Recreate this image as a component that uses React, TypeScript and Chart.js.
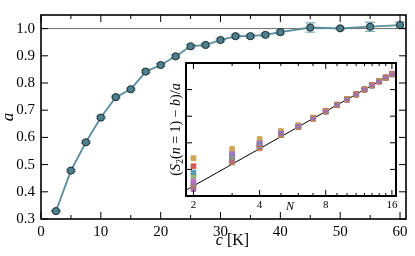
import React, { useEffect, useRef } from 'react';
import { Chart, registerables } from 'chart.js';
Chart.register(...registerables);

// ---------- main panel data ----------
const C_VALUES = [2.5, 5, 7.5, 10, 12.5, 15, 17.5, 20, 22.5, 25, 27.5, 30, 32.5, 35, 37.5, 40, 45, 50, 55, 60];
const A_VALUES = [0.329, 0.478, 0.582, 0.673, 0.748, 0.777, 0.842, 0.866, 0.898, 0.935, 0.94, 0.958, 0.972, 0.972, 0.977, 0.987, 1.004, 1.001, 1.007, 1.013];
const A_ERRORS = [0.003, 0.004, 0.004, 0.004, 0.004, 0.004, 0.005, 0.005, 0.005, 0.006, 0.005, 0.005, 0.006, 0.006, 0.006, 0.007, 0.017, 0.004, 0.017, 0.011];
const REF_LEVEL = 1.0;
const X_RANGE = [0, 61];
const Y_RANGE = [0.3, 1.05];
const X_MAJOR = [0, 10, 20, 30, 40, 50, 60];
const X_MINOR = [5, 15, 25, 35, 45, 55];
const Y_MAJOR = [0.3, 0.4, 0.5, 0.6, 0.7, 0.8, 0.9, 1.0];

// ---------- inset data ----------
const N_VALUES = [2, 3, 4, 5, 6, 7, 8, 9, 10, 11, 12, 13, 14, 15, 16];
const S_BROWN = [0.36, 1.26, 1.79, 2.29, 2.6, 2.91, 3.18, 3.42, 3.63, 3.82, 4.0, 4.16, 4.31, 4.45, 4.58];
const S_PINK = [0.55, 1.52, 1.97, 2.35, 2.63, 2.92, 3.19, 3.43, 3.62, 3.83, 4.01, 4.17, 4.31, 4.46, 4.59];
const S_ORANGE = [1.42, 1.76, 2.13, 2.44, 2.66, 2.95, 3.21, 3.44, 3.65, 3.83, 4.02, 4.17, 4.32, 4.46, 4.6];
const S_RED = [1.12, 1.36, 1.9, 2.31, 2.62, 2.92, 3.19, 3.42, 3.63, 3.82, 4.0, 4.16, 4.31, 4.45, 4.58];
const S_TEAL = [0.88, 1.46, 1.95, 2.34, 2.63, 2.93, 3.18, 3.43, 3.64, 3.82, 4.01, 4.15, 4.3, 4.45, 4.57];
const S_GREEN = [0.74, 1.41, 1.88, 2.3, 2.61, 2.91, 3.17, 3.41, 3.63, 3.81, 4.0, 4.16, 4.32, 4.44, 4.58];
const S_PURPLE = [0.45, 1.6, 2.01, 2.38, 2.62, 2.92, 3.19, 3.42, 3.63, 3.82, 4.0, 4.16, 4.31, 4.45, 4.58];
const S_VIOLET = [0.26, 1.3, 1.84, 2.32, 2.6, 2.91, 3.18, 3.42, 3.63, 3.82, 4.0, 4.16, 4.31, 4.45, 4.58];
const ERR_ORANGE = [0.06, 0.08, 0.09, 0.07, 0.05, 0.04, 0.04, 0.03, 0.03, 0.03, 0.03, 0.03, 0.03, 0.03, 0.03];
const ERR_OTHER = [0.04, 0.05, 0.05, 0.04, 0.04, 0.03, 0.03, 0.03, 0.03, 0.03, 0.03, 0.03, 0.03, 0.03, 0.03];
const FIT_N = [1.85, 16.7];
const FIT_Y = [0.22, 4.67];
const N_RANGE = [1.85, 16.7];
const INSET_Y_RANGE = [0, 5];
const N_MAJOR = [2, 4, 8, 16];
const N_MINOR = [3, 5, 6, 7, 9, 10, 11, 12, 13, 14, 15];
const INSET_Y_TICKS = [1, 2, 3, 4];

const SERIF = "'Liberation Serif', 'Times New Roman', serif";

type Seg = { t: string; it?: boolean; sub?: boolean };

function drawRich(ctx: CanvasRenderingContext2D, segs: Seg[], x: number, y: number, size: number, rotate: boolean) {
  ctx.save();
  ctx.translate(x, y);
  if (rotate) ctx.rotate(-Math.PI / 2);
  const font = (s: Seg) => `${s.it ? 'italic ' : ''}${s.sub ? Math.round(size * 0.7) : size}px ${SERIF}`;
  let total = 0;
  for (const s of segs) {
    ctx.font = font(s);
    total += ctx.measureText(s.t).width;
  }
  let cx = -total / 2;
  ctx.fillStyle = '#000';
  ctx.textAlign = 'left';
  ctx.textBaseline = 'alphabetic';
  for (const s of segs) {
    ctx.font = font(s);
    ctx.fillText(s.t, cx, s.sub ? size * 0.22 : 0);
    cx += ctx.measureText(s.t).width;
  }
  ctx.restore();
}

type TickSpec = {
  xMajor: number[]; xMinor: number[]; yMajor: number[]; yMinor: number[];
  major: number; minor: number; tickWidth: number; frameWidth: number;
};

function drawFrame(chart: any, spec: TickSpec) {
  const { ctx, chartArea } = chart;
  const { left, top, right, bottom } = chartArea;
  const xs = chart.scales.x;
  const ys = chart.scales.y;
  ctx.save();
  ctx.strokeStyle = '#000';
  ctx.lineWidth = spec.tickWidth;
  ctx.beginPath();
  const xt = (vals: number[], len: number) =>
    vals.forEach((v) => {
      const p = xs.getPixelForValue(v);
      ctx.moveTo(p, top); ctx.lineTo(p, top + len);
      ctx.moveTo(p, bottom); ctx.lineTo(p, bottom - len);
    });
  const yt = (vals: number[], len: number) =>
    vals.forEach((v) => {
      const p = ys.getPixelForValue(v);
      ctx.moveTo(left, p); ctx.lineTo(left + len, p);
      ctx.moveTo(right, p); ctx.lineTo(right - len, p);
    });
  xt(spec.xMajor, spec.major);
  xt(spec.xMinor, spec.minor);
  yt(spec.yMajor, spec.major);
  yt(spec.yMinor, spec.minor);
  ctx.stroke();
  ctx.lineWidth = spec.frameWidth;
  ctx.strokeRect(left, top, right - left, bottom - top);
  ctx.restore();
}

function drawErrors(chart: any) {
  const { ctx } = chart;
  const ys = chart.scales.y;
  ctx.save();
  chart.data.datasets.forEach((ds: any, i: number) => {
    if (!ds.errors) return;
    const meta = chart.getDatasetMeta(i);
    ctx.strokeStyle = ds.errColor;
    ctx.lineWidth = ds.errWidth || 1;
    ctx.beginPath();
    ds.data.forEach((pt: any, j: number) => {
      const el = meta.data[j];
      if (!el) return;
      const e = ds.errors[j];
      const x = el.x;
      const y1 = ys.getPixelForValue(pt.y + e);
      const y2 = ys.getPixelForValue(pt.y - e);
      ctx.moveTo(x, y1); ctx.lineTo(x, y2);
      ctx.moveTo(x - ds.cap, y1); ctx.lineTo(x + ds.cap, y1);
      ctx.moveTo(x - ds.cap, y2); ctx.lineTo(x + ds.cap, y2);
    });
    ctx.stroke();
  });
  ctx.restore();
}

export default function App() {
  const mainRef = useRef<HTMLCanvasElement>(null);
  const insetRef = useRef<HTMLCanvasElement>(null);

  useEffect(() => {
    const tickFont = { family: SERIF, size: 15 };

    const mainPlugin = {
      id: 'mainDeco',
      beforeDatasetsDraw(chart: any) { drawErrors(chart); },
      afterDraw(chart: any) {
        drawFrame(chart, {
          xMajor: X_MAJOR, xMinor: X_MINOR, yMajor: Y_MAJOR, yMinor: [],
          major: 7, minor: 4, tickWidth: 1, frameWidth: 1.6,
        });
        const { ctx, chartArea } = chart;
        const cy = (chartArea.top + chartArea.bottom) / 2;
        const cx = (chartArea.left + chartArea.right) / 2;
        drawRich(ctx, [{ t: 'a', it: true }], 13, cy, 17, true);
        drawRich(ctx, [{ t: 'c', it: true }, { t: ' [K]' }], cx + 9, 245, 16, false);
      },
    };

    const main = new Chart(mainRef.current!, {
      type: 'scatter',
      data: {
        datasets: [
          {
            data: C_VALUES.map((c, i) => ({ x: c, y: A_VALUES[i] })),
            errors: A_ERRORS, errColor: '#7aaab8', errWidth: 1.2, cap: 5,
            showLine: true,
            borderColor: '#5a8c9b', borderWidth: 1.8,
            pointRadius: 3.6, pointBackgroundColor: '#4d7f8d',
            pointBorderColor: '#1b2a2f', pointBorderWidth: 1,
          } as any,
          {
            data: [{ x: X_RANGE[0], y: REF_LEVEL }, { x: X_RANGE[1], y: REF_LEVEL }],
            showLine: true, borderColor: '#6b6b6b', borderWidth: 1, pointRadius: 0,
          },
        ],
      },
      options: {
        animation: false, responsive: false, devicePixelRatio: 1,
        layout: { padding: { top: 12, right: 9, left: 0, bottom: 0 } },
        plugins: { legend: { display: false }, tooltip: { enabled: false } },
        scales: {
          x: {
            type: 'linear', min: X_RANGE[0], max: X_RANGE[1],
            grid: { display: false, drawTicks: false }, border: { display: false },
            ticks: { font: tickFont, color: '#000', padding: 4, maxRotation: 0, callback: (v: any) => String(v) },
            afterBuildTicks: (s: any) => { s.ticks = X_MAJOR.map((v) => ({ value: v })); },
            afterFit: (s: any) => { s.height = 37; },
          },
          y: {
            type: 'linear', min: Y_RANGE[0], max: Y_RANGE[1],
            grid: { display: false, drawTicks: false }, border: { display: false },
            ticks: { font: tickFont, color: '#000', padding: 6, callback: (v: any) => Number(v).toFixed(1) },
            afterBuildTicks: (s: any) => { s.ticks = Y_MAJOR.map((v) => ({ value: v })); },
            afterFit: (s: any) => { s.width = 41; },
          },
        },
      },
      plugins: [mainPlugin],
    } as any);

    const series: [number[], string, number[]][] = [
      [S_BROWN, '#b8804f', ERR_OTHER],
      [S_PINK, '#c46fbf', ERR_OTHER],
      [S_ORANGE, '#c9a04a', ERR_ORANGE],
      [S_RED, '#d4524c', ERR_OTHER],
      [S_TEAL, '#4f98ad', ERR_OTHER],
      [S_GREEN, '#8fb36a', ERR_OTHER],
      [S_PURPLE, '#9277cc', ERR_OTHER],
      [S_VIOLET, '#a66aa8', ERR_OTHER],
    ];

    const insetPlugin = {
      id: 'insetDeco',
      beforeDatasetsDraw(chart: any) {
        const { ctx, chartArea } = chart;
        ctx.save();
        ctx.fillStyle = '#fff';
        ctx.fillRect(chartArea.left, chartArea.top, chartArea.right - chartArea.left, chartArea.bottom - chartArea.top);
        ctx.restore();
      },
      afterDatasetsDraw(chart: any) { drawErrors(chart); },
      afterDraw(chart: any) {
        drawFrame(chart, {
          xMajor: N_MAJOR, xMinor: N_MINOR, yMajor: INSET_Y_TICKS, yMinor: [],
          major: 6, minor: 3, tickWidth: 1, frameWidth: 2,
        });
        const { ctx, chartArea } = chart;
        const cy = (chartArea.top + chartArea.bottom) / 2;
        const cx = (chartArea.left + chartArea.right) / 2;
        drawRich(ctx, [{ t: 'N', it: true }], cx - 1, chartArea.bottom + 13.5, 12, false);
        drawRich(ctx, [
          { t: '(' }, { t: 'S', it: true }, { t: '2', sub: true }, { t: '(' }, { t: 'n', it: true },
          { t: ' = ' }, { t: '1)' }, { t: ' \u2212 ' }, { t: 'b', it: true },
          { t: ')/' }, { t: 'a', it: true },
        ], 20, cy, 14, true);
      },
    };

    const inset = new Chart(insetRef.current!, {
      type: 'scatter',
      data: {
        datasets: [
          ...series.map(([vals, col, err]) => ({
            data: N_VALUES.map((n, i) => ({ x: n, y: vals[i] })),
            errors: err, errColor: col, errWidth: 1, cap: 2.5,
            pointStyle: 'rect', pointRadius: 3.4,
            pointBackgroundColor: col + 'dd', pointBorderColor: col, pointBorderWidth: 0.8,
            order: 0,
          })),
          {
            data: FIT_N.map((n, i) => ({ x: n, y: FIT_Y[i] })),
            showLine: true, borderColor: '#000', borderWidth: 1, pointRadius: 0, order: 10,
          },
        ],
      },
      options: {
        animation: false, responsive: false, devicePixelRatio: 1,
        layout: { padding: { top: 7, right: 9, left: 0, bottom: 0 } },
        plugins: { legend: { display: false }, tooltip: { enabled: false } },
        scales: {
          x: {
            type: 'logarithmic', min: N_RANGE[0], max: N_RANGE[1],
            grid: { display: false, drawTicks: false }, border: { display: false },
            ticks: { font: { family: SERIF, size: 11 }, color: '#000', padding: 3, maxRotation: 0, callback: (v: any) => String(v) },
            afterBuildTicks: (s: any) => { s.ticks = N_MAJOR.map((v) => ({ value: v })); },
            afterFit: (s: any) => { s.height = 20; },
          },
          y: {
            type: 'linear', min: INSET_Y_RANGE[0], max: INSET_Y_RANGE[1],
            grid: { display: false, drawTicks: false }, border: { display: false },
            ticks: { display: false },
            afterFit: (s: any) => { s.width = 26; },
          },
        },
      },
      plugins: [insetPlugin],
    } as any);

    return () => {
      main.destroy();
      inset.destroy();
    };
  }, []);

  return (
    <div style={{ position: 'fixed', left: 0, top: 0, width: 415, height: 256, background: '#fff' }}>
      <canvas ref={mainRef} width={415} height={256} style={{ position: 'absolute', left: 0, top: 0, width: 415, height: 256 }} />
      <canvas ref={insetRef} width={245} height={160} style={{ position: 'absolute', left: 160, top: 56, width: 245, height: 160 }} />
    </div>
  );
}
